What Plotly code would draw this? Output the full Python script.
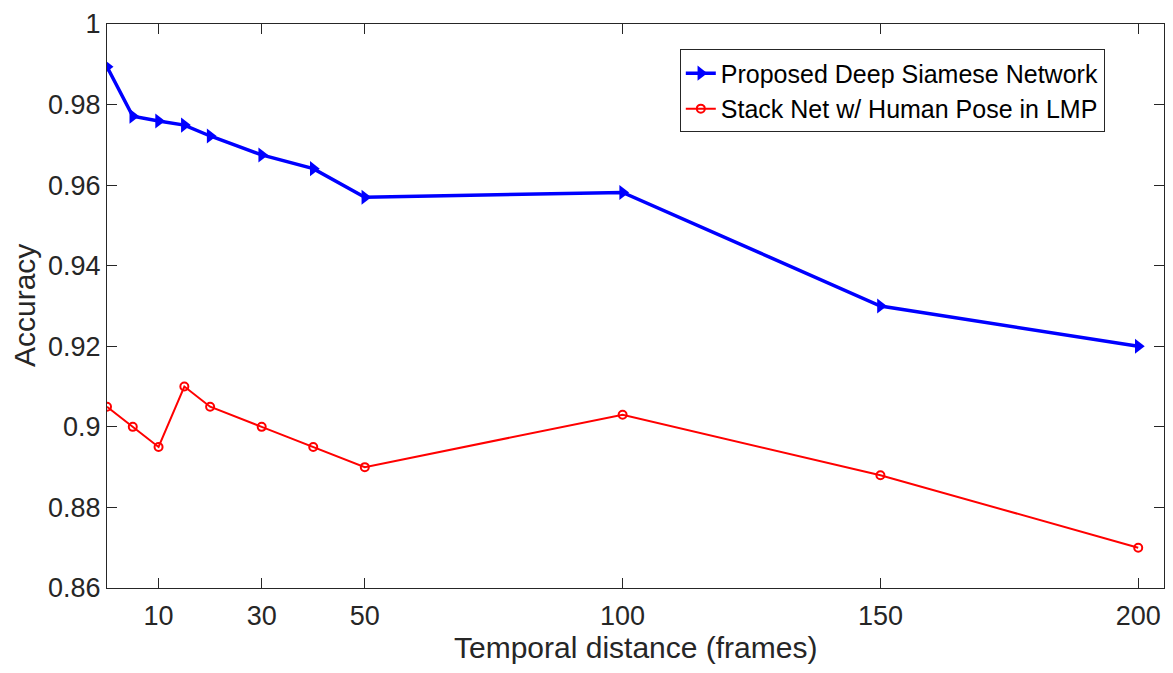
import plotly.graph_objects as go

temporal_distance = [0, 5, 10, 15, 20, 30, 40, 50, 100, 150, 200]
siamese_acc = [0.9894, 0.9771, 0.9759, 0.9749, 0.9722, 0.9675, 0.9641, 0.9570, 0.9582, 0.9300, 0.9200]
stacknet_acc = [0.905, 0.900, 0.895, 0.910, 0.905, 0.900, 0.895, 0.890, 0.903, 0.888, 0.870]
x_ticks = [10, 30, 50, 100, 150, 200]
y_ticks = [0.86, 0.88, 0.90, 0.92, 0.94, 0.96, 0.98, 1.0]
y_tick_labels = ["0.86", "0.88", "0.9", "0.92", "0.94", "0.96", "0.98", "1"]

FONT = "Liberation Sans, Arial, Helvetica, sans-serif"
AX = "#262626"

fig = go.Figure()
fig.add_trace(go.Scatter(
    x=temporal_distance, y=siamese_acc, mode="lines+markers",
    name="Proposed Deep Siamese Network",
    line=dict(color="#0000FF", width=3.5),
    marker=dict(symbol="triangle-right", size=13, color="#0000FF"),
))
fig.add_trace(go.Scatter(
    x=temporal_distance, y=stacknet_acc, mode="lines+markers",
    name="Stack Net w/ Human Pose in LMP",
    line=dict(color="#FF0000", width=2),
    marker=dict(symbol="circle-open", size=8, color="#FF0000", line=dict(width=2, color="#FF0000")),
))

axis_common = dict(
    showline=True, linecolor=AX, linewidth=1, mirror="allticks",
    ticks="inside", ticklen=10, tickwidth=1, tickcolor=AX,
    showgrid=False, zeroline=False, automargin=False,
    ticklabeloverflow="allow",
    tickfont=dict(family=FONT, size=27, color=AX),
)

fig.update_layout(
    width=1165, height=665,
    margin=dict(l=99, r=9, t=15.5, b=84.5),
    paper_bgcolor="white", plot_bgcolor="white",
    font=dict(family=FONT, color=AX),
    xaxis=dict(range=[0, 205], tickvals=x_ticks, ticklabelstandoff=4, **axis_common),
    yaxis=dict(range=[0.86, 1.0], tickvals=y_ticks, ticktext=y_tick_labels, **axis_common),
    legend=dict(x=0.944, y=0.955, xanchor="right", yanchor="top",
                bgcolor="white", bordercolor=AX, borderwidth=1,
                font=dict(family=FONT, size=25, color="black"),
                itemwidth=30, tracegroupgap=0),
    showlegend=True,
    annotations=[
        dict(text="Temporal distance (frames)", xref="paper", yref="paper",
             x=0.5, y=-0.106, xanchor="center", yanchor="middle", showarrow=False,
             font=dict(family=FONT, size=30, color=AX)),
        dict(text="Accuracy", xref="paper", yref="paper", textangle=-90,
             x=-0.0785, y=0.5, xanchor="center", yanchor="middle", showarrow=False,
             font=dict(family=FONT, size=30, color=AX)),
    ],
)

fig.write_html("out.html")
